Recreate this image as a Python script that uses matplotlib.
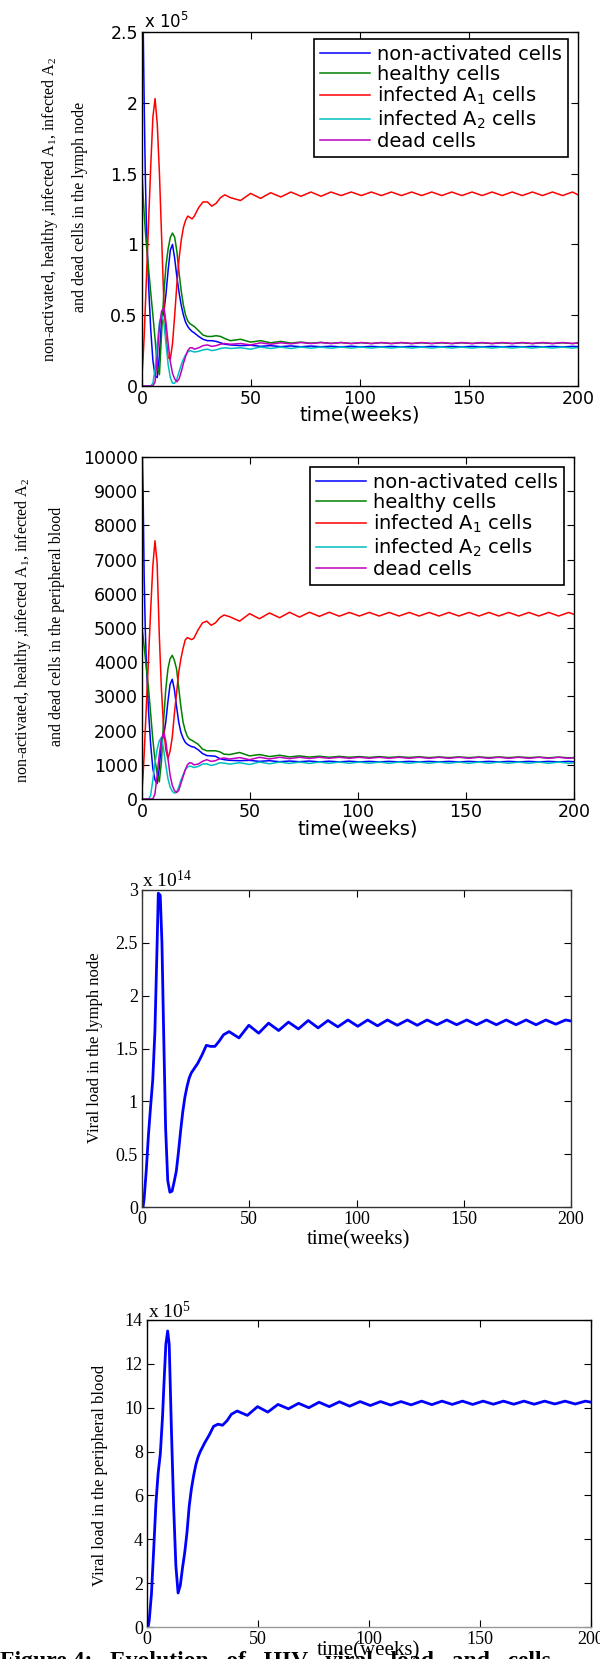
import matplotlib
matplotlib.use("Agg")
import matplotlib.pyplot as plt

# ── Data ─────────────────────────────────────────────────────────────────────
# time grid (weeks) for the cell panels: dense early, then peak / trough times
t_cells = [0, 0.5, 1, 1.5, 2, 3, 4, 5, 6, 7, 8, 9, 10, 11, 12, 13, 14, 15, 16, 17,
           18, 19, 20, 21, 22, 23, 24, 26, 28, 30, 32, 34, 36, 38,
           40.6, 45.2, 49.8, 54.4, 59.0, 63.7, 68.3, 72.9, 77.5, 82.1, 86.7, 91.3,
           96.0, 100.6, 105.2, 109.8, 114.4, 119.0, 123.7, 128.3, 132.9, 137.5,
           142.1, 146.7, 151.4, 156.0, 160.6, 165.2, 169.8, 174.4, 179.1, 183.7,
           188.3, 192.9, 197.5, 200.0]

# lymph node cells (x 1e5)
ln_nonact = [2.75, 2.6, 2.0, 1.5, 1.15, 0.72, 0.4, 0.18, 0.07, 0.06, 0.22, 0.47, 0.52,
             0.65, 0.82, 0.96, 1.0, 0.9, 0.77, 0.66, 0.57, 0.5, 0.45, 0.42, 0.4, 0.385,
             0.375, 0.35, 0.33, 0.32, 0.32, 0.315, 0.305, 0.295,
             0.29, 0.285, 0.288, 0.28, 0.285, 0.278, 0.283, 0.277, 0.282, 0.277, 0.281,
             0.276, 0.281, 0.276, 0.28, 0.276, 0.28, 0.276, 0.28, 0.276, 0.28, 0.276,
             0.28, 0.276, 0.28, 0.276, 0.28, 0.276, 0.28, 0.276, 0.28, 0.276, 0.28,
             0.276, 0.28, 0.278]
ln_healthy = [1.5, 1.35, 1.22, 1.1, 1.0, 0.83, 0.66, 0.5, 0.33, 0.15, 0.08, 0.38, 0.65,
              0.85, 0.97, 1.05, 1.08, 1.05, 0.95, 0.8, 0.67, 0.57, 0.5, 0.46, 0.44, 0.43,
              0.42, 0.39, 0.36, 0.35, 0.35, 0.355, 0.35, 0.335,
              0.32, 0.33, 0.31, 0.32, 0.305, 0.315, 0.303, 0.31, 0.302, 0.308, 0.301,
              0.307, 0.30, 0.306, 0.30, 0.306, 0.30, 0.306, 0.30, 0.305, 0.30, 0.305,
              0.30, 0.305, 0.30, 0.305, 0.30, 0.305, 0.30, 0.305, 0.30, 0.305, 0.30,
              0.305, 0.30, 0.303]
ln_inf_a1 = [0.08, 0.2, 0.35, 0.55, 0.75, 1.15, 1.55, 1.9, 2.03, 1.85, 1.5, 1.05, 0.6,
             0.35, 0.2, 0.19, 0.3, 0.5, 0.72, 0.9, 1.03, 1.12, 1.17, 1.2, 1.19, 1.18,
             1.2, 1.26, 1.3, 1.3, 1.27, 1.29, 1.33, 1.35,
             1.33, 1.31, 1.36, 1.325, 1.365, 1.335, 1.37, 1.34, 1.37, 1.34, 1.37, 1.345,
             1.37, 1.345, 1.37, 1.345, 1.37, 1.345, 1.37, 1.345, 1.37, 1.345, 1.37,
             1.345, 1.37, 1.345, 1.37, 1.345, 1.37, 1.345, 1.37, 1.345, 1.37, 1.345,
             1.37, 1.35]
ln_inf_a2 = [0, 0, 0, 0, 0, 0, 0, 0.02, 0.12, 0.3, 0.45, 0.5, 0.45, 0.3, 0.15, 0.06,
             0.02, 0.02, 0.05, 0.1, 0.15, 0.19, 0.22, 0.24, 0.25, 0.245, 0.24, 0.245,
             0.255, 0.26, 0.25, 0.255, 0.265, 0.27,
             0.265, 0.27, 0.26, 0.275, 0.265, 0.275, 0.265, 0.275, 0.267, 0.275, 0.267,
             0.275, 0.268, 0.275, 0.268, 0.275, 0.268, 0.275, 0.268, 0.275, 0.268,
             0.275, 0.268, 0.275, 0.268, 0.275, 0.268, 0.275, 0.268, 0.275, 0.268,
             0.275, 0.268, 0.275, 0.268, 0.272]
ln_dead = [0, 0, 0, 0, 0, 0, 0, 0, 0.03, 0.2, 0.42, 0.53, 0.55, 0.45, 0.3, 0.17, 0.09,
           0.05, 0.03, 0.05, 0.1, 0.16, 0.21, 0.25, 0.27, 0.27, 0.26, 0.27, 0.285, 0.29,
           0.28, 0.285, 0.295, 0.3,
           0.295, 0.3, 0.29, 0.305, 0.295, 0.305, 0.298, 0.307, 0.3, 0.307, 0.3, 0.307,
           0.3, 0.307, 0.3, 0.307, 0.3, 0.307, 0.3, 0.307, 0.3, 0.307, 0.3, 0.307, 0.3,
           0.307, 0.3, 0.307, 0.3, 0.307, 0.3, 0.307, 0.3, 0.307, 0.3, 0.305]

# peripheral blood cells
pb_nonact = [10500, 9000, 6500, 5000, 4000, 2600, 1600, 900, 560, 450, 900, 1700, 1850,
             2250, 2850, 3350, 3500, 3200, 2700, 2250, 1950, 1780, 1660, 1600, 1560,
             1530, 1520, 1440, 1330, 1270, 1260, 1250, 1180, 1150,
             1130, 1120, 1130, 1100, 1120, 1090, 1110, 1090, 1110, 1085, 1105, 1085,
             1105, 1085, 1100, 1085, 1100, 1085, 1100, 1085, 1100, 1085, 1100, 1085,
             1100, 1085, 1100, 1085, 1100, 1085, 1100, 1085, 1100, 1085, 1100, 1090]
pb_healthy = [5000, 4750, 4450, 4150, 3850, 3250, 2500, 1750, 1150, 750, 500, 1100, 2300,
              3200, 3800, 4100, 4200, 4050, 3800, 3250, 2700, 2250, 2000, 1830, 1750,
              1720, 1680, 1600, 1460, 1410, 1410, 1410, 1380, 1310,
              1300, 1360, 1260, 1300, 1240, 1280, 1230, 1260, 1225, 1250, 1220, 1245,
              1220, 1240, 1215, 1240, 1215, 1235, 1215, 1235, 1210, 1230, 1210, 1230,
              1210, 1230, 1210, 1230, 1210, 1230, 1210, 1225, 1205, 1225, 1205, 1210]
pb_inf_a1 = [250, 700, 1300, 2000, 2700, 4100, 5500, 6800, 7550, 6900, 4800, 3200, 2100,
             1450, 1180, 1400, 1800, 2500, 3100, 3700, 4100, 4400, 4650, 4720, 4690,
             4660, 4700, 4950, 5150, 5200, 5080, 5150, 5300, 5380,
             5330, 5200, 5420, 5270, 5440, 5300, 5460, 5320, 5460, 5340, 5460, 5345,
             5455, 5350, 5455, 5350, 5455, 5350, 5455, 5350, 5455, 5350, 5455, 5350,
             5455, 5350, 5455, 5350, 5455, 5350, 5455, 5350, 5455, 5350, 5455, 5400]
pb_inf_a2 = [0, 0, 0, 0, 0, 0, 100, 550, 1050, 1450, 1700, 1800, 1450, 1000, 600, 350,
             230, 170, 200, 350, 550, 700, 850, 930, 960, 950, 920, 950, 1020, 1030, 980,
             1010, 1060, 1050,
             1020, 1060, 1010, 1080, 1030, 1080, 1040, 1080, 1040, 1080, 1045, 1080,
             1045, 1080, 1045, 1080, 1045, 1080, 1045, 1080, 1045, 1080, 1045, 1080,
             1045, 1080, 1045, 1080, 1045, 1080, 1045, 1080, 1045, 1080, 1045, 1060]
pb_dead = [0, 0, 0, 0, 0, 0, 0, 0, 150, 700, 1300, 1750, 1950, 1700, 1200, 700, 400, 250,
           190, 250, 450, 650, 850, 1000, 1060, 1050, 1000, 1020, 1100, 1150, 1100, 1120,
           1180, 1200,
           1170, 1210, 1150, 1220, 1170, 1220, 1180, 1220, 1185, 1220, 1190, 1220, 1190,
           1220, 1190, 1220, 1190, 1220, 1190, 1220, 1190, 1220, 1190, 1220, 1190, 1220,
           1190, 1220, 1190, 1220, 1190, 1220, 1190, 1220, 1190, 1210]

# viral loads
t_vl = [0, 0.5, 1, 2, 3, 4, 5, 6, 7, 7.6, 8.5, 9.3, 10, 11, 12, 13, 14, 15, 16, 17, 18,
        19, 20, 21, 22, 23, 24, 26, 28, 30, 32, 34, 36, 38,
        40.6, 45.2, 49.8, 54.4, 59.0, 63.7, 68.3, 72.9, 77.5, 82.1, 86.7, 91.3,
        96.0, 100.6, 105.2, 109.8, 114.4, 119.0, 123.7, 128.3, 132.9, 137.5,
        142.1, 146.7, 151.4, 156.0, 160.6, 165.2, 169.8, 174.4, 179.1, 183.7,
        188.3, 192.9, 197.5, 200.0]
vl_lymph = [0.0, 0.0, 0.08, 0.35, 0.68, 0.95, 1.2, 1.65, 2.45, 2.97, 2.95, 2.5, 1.75,
            0.75, 0.25, 0.14, 0.15, 0.24, 0.34, 0.52, 0.72, 0.9, 1.04, 1.14, 1.22, 1.27,
            1.3, 1.36, 1.44, 1.53, 1.52, 1.52, 1.57, 1.63,
            1.66, 1.60, 1.72, 1.645, 1.74, 1.67, 1.75, 1.685, 1.765, 1.695, 1.765,
            1.705, 1.77, 1.71, 1.77, 1.715, 1.77, 1.72, 1.77, 1.72, 1.77, 1.725, 1.77,
            1.725, 1.77, 1.725, 1.77, 1.725, 1.77, 1.725, 1.77, 1.725, 1.77, 1.73,
            1.77, 1.76]
vl_blood = [0.0, 0.0, 0.3, 1.5, 3.5, 5.6, 7.0, 7.9, 9.6, 11.0, 12.9, 13.5, 12.9, 9.0,
            5.5, 2.8, 1.55, 1.9, 2.7, 3.4, 4.3, 5.5, 6.3, 6.9, 7.4, 7.75, 8.0, 8.4,
            8.75, 9.15, 9.25, 9.2, 9.4, 9.7,
            9.85, 9.65, 10.05, 9.8, 10.15, 9.95, 10.2, 10.0, 10.25, 10.05, 10.27,
            10.07, 10.28, 10.1, 10.28, 10.12, 10.28, 10.13, 10.3, 10.14, 10.3, 10.15,
            10.3, 10.15, 10.3, 10.16, 10.3, 10.16, 10.3, 10.16, 10.3, 10.17, 10.3,
            10.17, 10.3, 10.25]

series_names = ["non-activated cells", "healthy cells",
                r"infected A$\mathregular{_1}$ cells",
                r"infected A$\mathregular{_2}$ cells", "dead cells"]
x_ticks = [0, 50, 100, 150, 200]

# ── Style constants ───────────────────────────────────────────────────────────
SANS = ["DejaVu Sans"]
SERIF = ["Liberation Serif", "DejaVu Serif"]
COLORS = ["#0000ff", "#008000", "#ff0000", "#00bfbf", "#bf00bf"]
W, H = 600, 1659

plt.rcParams["font.family"] = SANS
fig = plt.figure(figsize=(W / 100, H / 100), dpi=100)
fig.patch.set_facecolor("white")


def px_axes(x0, y0, x1, y1):
    return fig.add_axes([x0 / W, 1 - y1 / H, (x1 - x0) / W, (y1 - y0) / H])


def ftext(x, y, s, **kw):
    return fig.text(x / W, 1 - y / H, s, **kw)


def setup(ax, yticks, ylabels, ymax, family, size, spine="black"):
    ax.set_xlim(0, 200)
    ax.set_ylim(0, ymax)
    ax.set_xticks(x_ticks)
    ax.set_xticklabels([str(v) for v in x_ticks], fontfamily=family, fontsize=size)
    ax.set_yticks(yticks)
    ax.set_yticklabels(ylabels, fontfamily=family, fontsize=size)
    ax.tick_params(direction="in", top=True, right=True, length=5, width=0.8, pad=3)
    for s in ax.spines.values():
        s.set_color(spine)
        s.set_linewidth(1.0)


def cell_legend(ax, right, top):
    leg = ax.legend(loc="upper right", bbox_to_anchor=(right / W, 1 - top / H),
                    bbox_transform=fig.transFigure, fontsize=14, fancybox=False,
                    edgecolor="black", framealpha=1, borderaxespad=0,
                    handlelength=2.6, handletextpad=0.35, labelspacing=0.06,
                    borderpad=0.3)
    leg.get_frame().set_linewidth(1.2)


# ── Panel 1: lymph node cells ────────────────────────────────────────────────
ax1 = px_axes(142, 32, 578, 386)
for vals, c, name in zip([ln_nonact, ln_healthy, ln_inf_a1, ln_inf_a2, ln_dead],
                         COLORS, series_names):
    ax1.plot(t_cells, vals, color=c, lw=1.1, label=name)
setup(ax1, [0, 0.5, 1, 1.5, 2, 2.5], ["0", "0.5", "1", "1.5", "2", "2.5"], 2.5, SANS, 12.5)
cell_legend(ax1, 568, 39)
ftext(144, 28, r"x 10$\mathregular{^5}$", fontsize=12, family=SANS)
ftext(50, 209, r"non-activated, healthy ,infected A$\mathregular{_1}$, infected A$\mathregular{_2}$",
      rotation=90, ha="center", va="center", fontsize=11.5, family=SERIF)
ftext(80, 207, "and dead cells in the lymph node",
      rotation=90, ha="center", va="center", fontsize=11.5, family=SERIF)
ftext(360, 415, "time(weeks)", ha="center", va="center", fontsize=14, family=SANS)

# ── Panel 2: peripheral blood cells ──────────────────────────────────────────
ax2 = px_axes(142, 457, 574, 799)
for vals, c, name in zip([pb_nonact, pb_healthy, pb_inf_a1, pb_inf_a2, pb_dead],
                         COLORS, series_names):
    ax2.plot(t_cells, vals, color=c, lw=1.1, label=name)
yt2 = list(range(0, 10001, 1000))
setup(ax2, yt2, [str(v) for v in yt2], 10000, SANS, 12.5)
cell_legend(ax2, 564, 467)
ftext(23, 630, r"non-activated, healthy ,infected A$\mathregular{_1}$, infected A$\mathregular{_2}$",
      rotation=90, ha="center", va="center", fontsize=11.5, family=SERIF)
ftext(57, 626, "and dead cells in the peripheral blood",
      rotation=90, ha="center", va="center", fontsize=11.5, family=SERIF)
ftext(358, 829, "time(weeks)", ha="center", va="center", fontsize=14, family=SANS)

# ── Panel 3: viral load, lymph node ──────────────────────────────────────────
ax3 = px_axes(142, 890, 571, 1207)
ax3.plot(t_vl, vl_lymph, color="#0000ff", lw=2.0)
setup(ax3, [0, 0.5, 1, 1.5, 2, 2.5, 3], ["0", "0.5", "1", "1.5", "2", "2.5", "3"],
      3, SERIF, 13, spine="#333333")
ftext(142, 887, r"x 10$\mathregular{^{14}}$", fontsize=14, family=SERIF)
ftext(95, 1048, "Viral load in the lymph node", rotation=90, ha="center",
      va="center", fontsize=12, family=SERIF)
ftext(358, 1240, "time(weeks)", ha="center", va="center", fontsize=15, family=SERIF)

# ── Panel 4: viral load, peripheral blood ────────────────────────────────────
ax4 = px_axes(147, 1320, 591, 1627)
ax4.plot(t_vl, vl_blood, color="#0000ff", lw=2.0)
setup(ax4, list(range(0, 15, 2)), [str(v) for v in range(0, 15, 2)], 14, SERIF, 13)
ax4.spines["bottom"].set_color("#999999")
ftext(148, 1318, r"x 10$\mathregular{^5}$", fontsize=14, family=SERIF)
ftext(100, 1475, "Viral load in the peripheral blood", rotation=90, ha="center",
      va="center", fontsize=12, family=SERIF)
ftext(368, 1651, "time(weeks)", ha="center", va="center", fontsize=15, family=SERIF)

# caption, cut off by the bottom of the page
ftext(0, 1667, "Figure 4:   Evolution   of   HIV   viral   load   and   cells",
      fontsize=17, fontweight="bold", family=SERIF, va="baseline")

# ── Export ────────────────────────────────────────────────────────────────────
fig.savefig("out.png", dpi=100)
